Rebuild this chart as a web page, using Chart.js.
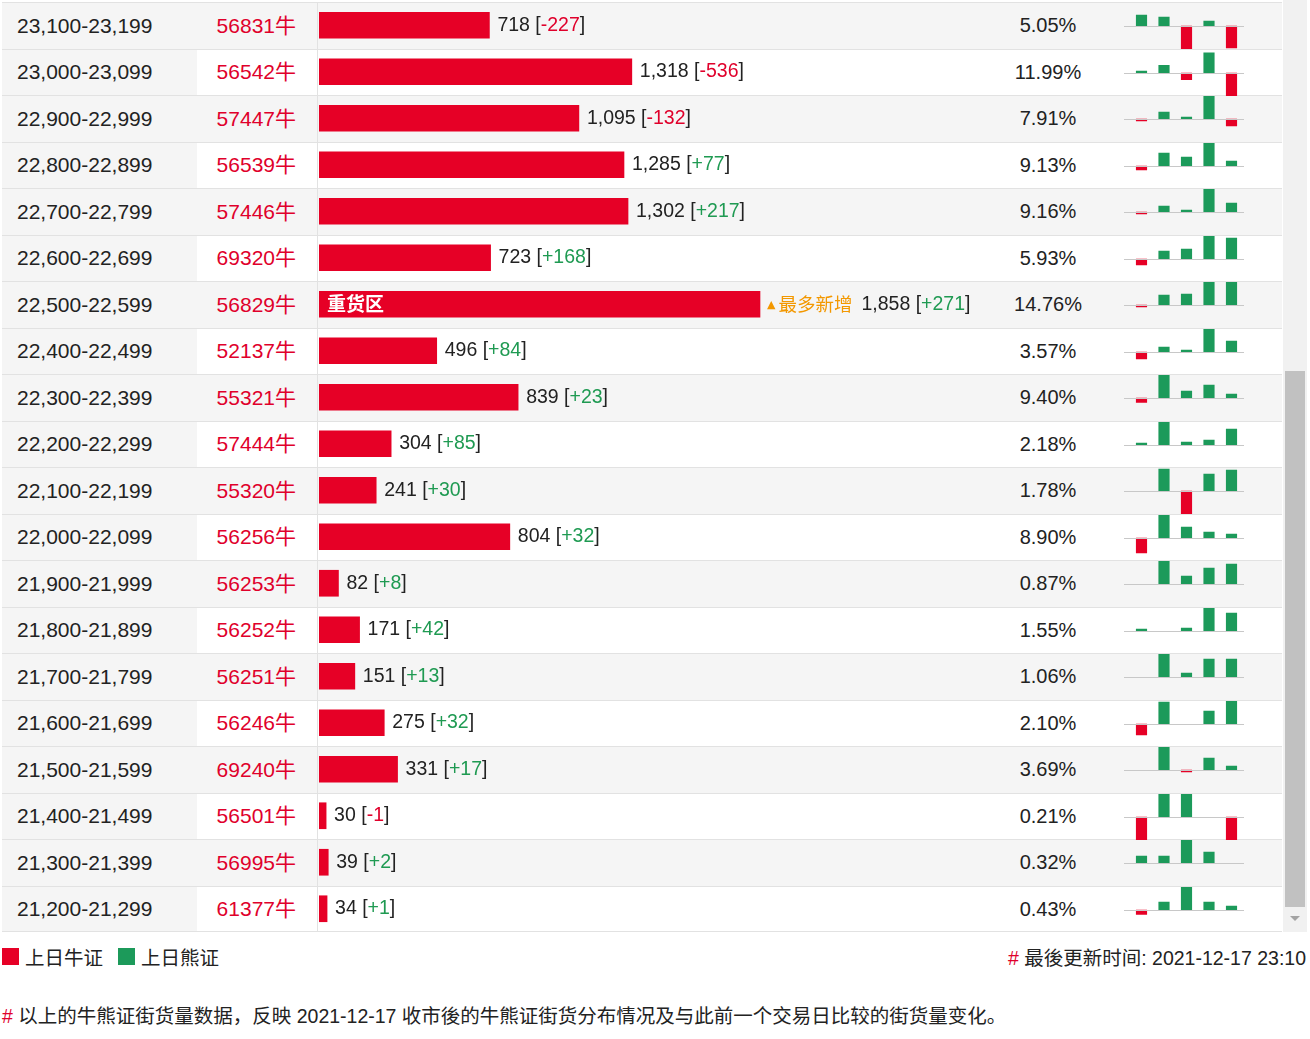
<!DOCTYPE html>
<html>
<head>
<meta charset="utf-8">
<script src="https://cdn.jsdelivr.net/npm/chart.js@4.4.0/dist/chart.umd.min.js"></script>
<style>
  body { margin: 0; background: #fff; font-family: "Liberation Sans", "Noto Sans CJK SC", sans-serif; color: #222; }
  #wrap { position: relative; width: 1310px; height: 1039px; overflow: hidden; }
  .row { position: absolute; left: 2px; width: 1280px; height: 46.5px; border-top: 1px solid #e2e2e2; box-sizing: border-box; }
  .row.odd { background: #f5f5f5; }
  .cell { position: absolute; top: 0; height: 100%; display: flex; align-items: center; box-sizing: border-box; }
  .range { left: 0; width: 195px; background: #f5f5f5; padding-left: 15px; font-size: 21px; }
  .code { left: 195px; width: 99px; justify-content: flex-end; font-size: 21px; color: #e0002b; padding-bottom: 4px; }
  .pct { left: 996px; width: 100px; justify-content: center; font-size: 20px; }
  #vline { position: absolute; left: 317px; top: 2px; width: 1px; height: 930px; background: #e2e2e2; }
  #bottomline { position: absolute; left: 2px; top: 931px; width: 1280px; height: 1px; background: #e2e2e2; }
  #bars { position: absolute; left: 319px; top: 2px; }
  .mini { position: absolute; left: 1124px; }
  #track { position: absolute; left: 1283px; top: 0; width: 24px; height: 932px; background: #f1f1f1; }
  #thumb { position: absolute; left: 1285px; top: 371px; width: 20px; height: 536px; background: #c1c1c1; }
  #arrow { position: absolute; left: 1290px; top: 916px; width: 0; height: 0; border-left: 5px solid transparent; border-right: 5px solid transparent; border-top: 5px solid #a3a3a3; }
  .legend { position: absolute; top: 942px; font-size: 19.5px; display: flex; align-items: center; }
  .sq { display: inline-block; width: 17px; height: 17px; margin-right: 6px; }
  #updated { position: absolute; right: 4px; top: 942px; font-size: 19.5px; }
  #note { position: absolute; left: 2px; top: 1000px; font-size: 19.5px; }
  .hash { color: #e0002b; }
</style>
</head>
<body>
<div id="wrap">
  <div id="rows"></div>
  <div id="vline"></div>
  <div id="bottomline"></div>
  <canvas id="bars" width="680" height="930"></canvas>
  <div id="minis"></div>
  <div id="track"></div>
  <div id="thumb"></div>
  <div id="arrow"></div>
  <div class="legend" style="left:2px"><span class="sq" style="background:#e60026"></span>上日牛证</div>
  <div class="legend" style="left:118px"><span class="sq" style="background:#1c9a5a"></span>上日熊证</div>
  <div id="updated"><span class="hash">#</span> 最後更新时间: 2021-12-17 23:10</div>
  <div id="note"><span class="hash">#</span> 以上的牛熊证街货量数据，反映 2021-12-17 收市後的牛熊证街货分布情况及与此前一个交易日比较的街货量变化。</div>
</div>
<script>
const ranges = ["23,100-23,199", "23,000-23,099", "22,900-22,999", "22,800-22,899", "22,700-22,799",
  "22,600-22,699", "22,500-22,599", "22,400-22,499", "22,300-22,399", "22,200-22,299",
  "22,100-22,199", "22,000-22,099", "21,900-21,999", "21,800-21,899", "21,700-21,799",
  "21,600-21,699", "21,500-21,599", "21,400-21,499", "21,300-21,399", "21,200-21,299"];
const codes = ["56831", "56542", "57447", "56539", "57446", "69320", "56829", "52137", "55321", "57444",
  "55320", "56256", "56253", "56252", "56251", "56246", "69240", "56501", "56995", "61377"];
const quantities = [718, 1318, 1095, 1285, 1302, 723, 1858, 496, 839, 304,
  241, 804, 82, 171, 151, 275, 331, 30, 39, 34];
const changes = [-227, -536, -132, 77, 217, 168, 271, 84, 23, 85,
  30, 32, 8, 42, 13, 32, 17, -1, 2, 1];
const percents = ["5.05%", "11.99%", "7.91%", "9.13%", "9.16%", "5.93%", "14.76%", "3.57%", "9.40%", "2.18%",
  "1.78%", "8.90%", "0.87%", "1.55%", "1.06%", "2.10%", "3.69%", "0.21%", "0.32%", "0.43%"];
// last five days, bull (neg) / bear (pos) change per row
const history = [
  [11, 9, -23, 5, -22], [2, 8, -7, 21, -24], [-1.5, 7, 1, 23, -7], [-4, 13, 9, 23, 5],
  [-1.5, 6, 2, 23, 9], [-6, 8, 10, 23, 21], [-1, 10, 11, 23, 23], [-7, 5, 2, 23, 11],
  [-4.5, 23, 7, 13, 4], [2, 23, 3, 5, 16], [0, 22, -23, 17, 21], [-15, 23, 11, 6, 4],
  [0, 23, 8, 16, 20], [2, 0, 3, 23, 18], [0, 23, 4, 18, 18], [-11, 22, 0, 13, 23],
  [0, 23, -1, 12, 4], [-23, 23, 23, 0, -23], [7, 7, 23, 11, 0], [-4.5, 8, 23, 8, 4]
];
const historyDays = ["D-5", "D-4", "D-3", "D-2", "D-1"];

const RED = "#e60026";
const GREEN = "#1c9a5a";
const TXT_RED = "#e0002b";
const TXT_GREEN = "#1f9a52";
const ORANGE = "#f39800";
const ROW_H = 46.5;
const X_MAX = 2865;

const heavyIdx = quantities.indexOf(Math.max(...quantities));
const mostNewIdx = changes.indexOf(Math.max(...changes));

// table rows
const rowsEl = document.getElementById("rows");
ranges.forEach((r, i) => {
  const row = document.createElement("div");
  row.className = "row" + (i % 2 === 0 ? " odd" : "");
  row.style.top = (2 + i * ROW_H) + "px";
  row.innerHTML = '<div class="cell range">' + r + '</div>' +
    '<div class="cell code">' + codes[i] + '牛</div>' +
    '<div class="cell pct">' + percents[i] + '</div>';
  rowsEl.appendChild(row);
});

const labelPlugin = {
  id: "valueLabels",
  afterDatasetsDraw(chart) {
    const ctx = chart.ctx;
    const meta = chart.getDatasetMeta(0);
    ctx.save();
    ctx.textBaseline = "middle";
    meta.data.forEach((bar, i) => {
      let x = bar.x + 8;
      const y = bar.y;
      if (i === heavyIdx) {
        ctx.fillStyle = "#fff";
        ctx.font = "bold 19px 'Noto Sans CJK SC'";
        ctx.fillText("重货区", bar.base + 8, y);
      }
      if (i === mostNewIdx) {
        x -= 1;
        ctx.fillStyle = ORANGE;
        ctx.font = "11px 'DejaVu Sans'";
        ctx.fillText("▲", x, y + 1);
        x += ctx.measureText("▲").width + 3;
        ctx.font = "18.5px 'Noto Sans CJK SC'";
        ctx.fillText("最多新增", x, y);
        x += ctx.measureText("最多新增").width + 9;
      }
      const ch = changes[i];
      const parts = [
        [quantities[i].toLocaleString("en-US") + " [", "#222"],
        [(ch > 0 ? "+" : "") + ch, ch < 0 ? TXT_RED : TXT_GREEN],
        ["]", "#222"]
      ];
      ctx.font = "19.5px 'Liberation Sans'";
      parts.forEach(([t, c]) => {
        ctx.fillStyle = c;
        ctx.fillText(t, x, y);
        x += ctx.measureText(t).width;
      });
    });
    ctx.restore();
  }
};

new Chart(document.getElementById("bars"), {
  type: "bar",
  data: {
    labels: ranges,
    datasets: [{ data: quantities, backgroundColor: RED, barThickness: 26 }]
  },
  options: {
    indexAxis: "y",
    responsive: false,
    animation: false,
    layout: { padding: 0 },
    scales: {
      x: { display: false, min: 0, max: X_MAX },
      y: { display: false }
    },
    plugins: { legend: { display: false }, tooltip: { enabled: false } }
  },
  plugins: [labelPlugin]
});

const zeroLine = {
  id: "zeroLine",
  afterDatasetsDraw(chart) {
    const ctx = chart.ctx;
    const y0 = Math.round(chart.scales.y.getPixelForValue(0)) + 0.5;
    ctx.save();
    ctx.strokeStyle = "#c8c8c8";
    ctx.lineWidth = 1;
    ctx.beginPath();
    ctx.moveTo(0, y0);
    ctx.lineTo(chart.width, y0);
    ctx.stroke();
    ctx.restore();
  }
};

const minisEl = document.getElementById("minis");
history.forEach((vals, i) => {
  const c = document.createElement("canvas");
  c.className = "mini";
  c.width = 120;
  c.height = 46;
  c.style.top = (2 + i * ROW_H + 1) + "px";
  minisEl.appendChild(c);
  const m = Math.max(...vals.map(Math.abs));
  new Chart(c, {
    type: "bar",
    data: {
      labels: historyDays,
      datasets: [{
        data: vals,
        backgroundColor: vals.map(v => v < 0 ? RED : v > 0 ? GREEN : "rgba(0,0,0,0)"),
        barThickness: 10.5,
        minBarLength: 2
      }]
    },
    options: {
      responsive: false,
      animation: false,
      layout: { padding: { left: 6.25, right: 1.25, top: 0, bottom: 0 } },
      scales: {
        x: { display: false },
        y: { display: false, min: -m, max: m }
      },
      plugins: { legend: { display: false }, tooltip: { enabled: false } }
    },
    plugins: [zeroLine]
  });
});
</script>
</body>
</html>
